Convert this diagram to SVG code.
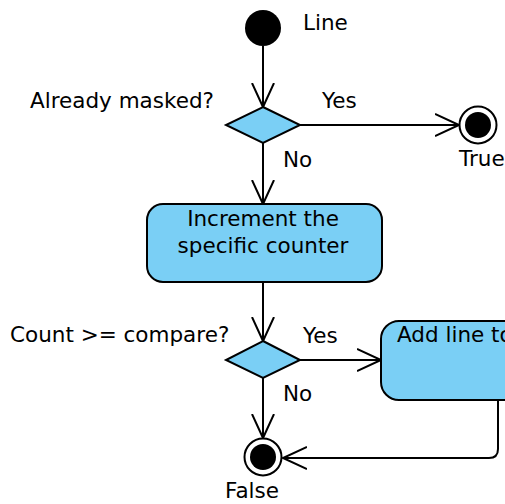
<svg xmlns="http://www.w3.org/2000/svg" width="505" height="504" viewBox="0 0 505 504">
  <style>
    text { font-family: "DejaVu Sans", "Liberation Sans", sans-serif; font-size: 21.5px; fill: #000; }
    .act { fill: #7acff5; stroke: #000; stroke-width: 2; }
    .dec { fill: #7acff5; stroke: #000; stroke-width: 2; stroke-linejoin: miter; }
    .edge { fill: none; stroke: #000; stroke-width: 2; }
    .mid { text-anchor: middle; }
  </style>
  <defs>
    <marker id="open" markerUnits="userSpaceOnUse" markerWidth="30" markerHeight="30" refX="24" refY="12" orient="auto" viewBox="0 0 30 24">
      <path d="M0,1 L24,12 L0,23" fill="none" stroke="#000" stroke-width="2"/>
    </marker>
  </defs>

  <g id="connectors">
    <line class="edge" x1="263" y1="46" x2="263" y2="107" marker-end="url(#open)"/>
    <line class="edge" x1="300" y1="125" x2="459" y2="125" marker-end="url(#open)"/>
    <line class="edge" x1="263" y1="143" x2="263" y2="204" marker-end="url(#open)"/>
    <line class="edge" x1="263" y1="282" x2="263" y2="341" marker-end="url(#open)"/>
    <line class="edge" x1="300" y1="360" x2="381" y2="360" marker-end="url(#open)"/>
    <line class="edge" x1="263" y1="378" x2="263" y2="438" marker-end="url(#open)"/>
    <path class="edge" d="M498,400 V449 Q498,458 489,458 H283" marker-end="url(#open)"/>
  </g>

  <g id="start">
    <circle cx="263" cy="28" r="18" fill="#000"/>
    <text x="303" y="30">Line</text>
  </g>

  <g id="already-masked">
    <polygon class="dec" points="263,107 300,125 263,143 226,125"/>
    <text x="30" y="108">Already masked?</text>
    <text x="322" y="108">Yes</text>
    <text x="283" y="167">No</text>
  </g>

  <g id="end-true">
    <circle cx="478" cy="125" r="18.5" fill="#fff" stroke="#000" stroke-width="2"/>
    <circle cx="478" cy="125" r="13" fill="#000"/>
    <text x="459" y="166">True</text>
  </g>

  <g id="increment">
    <rect class="act" x="147" y="204" width="235" height="78" rx="16" ry="16"/>
    <text class="mid" x="263" y="226">Increment the</text>
    <text class="mid" x="263" y="253">specific counter</text>
  </g>

  <g id="count-compare">
    <polygon class="dec" points="263,341 300,360 263,378 226,360"/>
    <text x="10" y="342">Count &gt;= compare?</text>
    <text x="303" y="343">Yes</text>
    <text x="283" y="401">No</text>
  </g>

  <g id="add-line">
    <rect class="act" x="381" y="321" width="240" height="79" rx="18" ry="18"/>
    <text x="397" y="342">Add line to</text>
  </g>

  <g id="end-false">
    <circle cx="263" cy="457" r="18.5" fill="#fff" stroke="#000" stroke-width="2"/>
    <circle cx="263" cy="457" r="13" fill="#000"/>
    <text x="225" y="498">False</text>
  </g>
</svg>
